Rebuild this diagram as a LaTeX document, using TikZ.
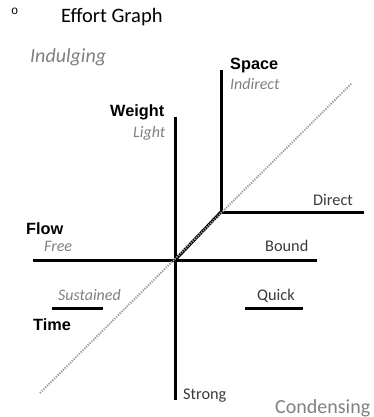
\documentclass[tikz,border=0pt]{standalone}
\usepackage{fontspec}
\setmainfont{Carlito}
\newfontfamily\arialfont{Liberation Sans}
\newfontfamily\monofont{Liberation Mono}
\definecolor{lightgray}{HTML}{808080}
\definecolor{guidegray}{HTML}{999999}
\definecolor{darktext}{HTML}{3A3A3A}
\begin{document}
\begin{tikzpicture}[x=1pt,y=-1pt,
  lbl/.style={inner sep=0pt,anchor=base west,font=\fontsize{16.3}{19}\selectfont,text=darktext},
  sublbl/.style={inner sep=0pt,anchor=base west,font=\fontsize{16}{19}\selectfont\itshape,text=lightgray},
  axlbl/.style={inner sep=0pt,anchor=base west,font=\arialfont\bfseries\fontsize{16.3}{19}\selectfont,text=black},
  biglbl/.style={inner sep=0pt,anchor=base west,font=\fontsize{20}{24}\selectfont,text=lightgray},
  axis/.style={line width=3pt,black},
  guide/.style={line width=2pt,guidegray,dash pattern=on 1.2pt off 1.3pt}]
\useasboundingbox (0,0) rectangle (374,417);
% title
\node[inner sep=0pt,anchor=base west,font=\monofont\fontsize{12}{14}\selectfont] (bullet) at (11,15) {o};
\node[inner sep=0pt,anchor=base west,font=\fontsize{20.5}{24}\selectfont] (title) at (61,23) {Effort Graph};
% corner labels
\node[biglbl,font=\fontsize{20}{24}\selectfont\itshape] (indulging) at (30,63) {Indulging};
\node[biglbl] (condensing) at (275,413) {Condensing};
% coordinates
\coordinate (O) at (175,260);
\coordinate (C) at (221,212);
\coordinate (wtop) at (175,117);
\coordinate (wbot) at (175,400);
\coordinate (stop) at (221,70);
\coordinate (dend) at (364,212);
\coordinate (fl) at (33,260);
\coordinate (fr) at (317,260);
\coordinate (g1) at (40,393);
\coordinate (g2) at (352,83);
\coordinate (ts1) at (52,308);
\coordinate (ts2) at (103,308);
\coordinate (tq1) at (245,308);
\coordinate (tq2) at (303,308);
% axes
\draw[axis] (wtop) -- (wbot);
\draw[axis] (stop) -- (C) -- (dend);
\draw[axis] (fl) -- (fr);
\draw[axis] (O) -- (C);
\draw[axis] (ts1) -- (ts2);
\draw[axis] (tq1) -- (tq2);
\draw[guide] (g1) -- (g2);
% labels
\node[axlbl] (space) at (230,70) {Space};
\node[sublbl] (indirect) at (230,90) {Indirect};
\node[axlbl] (weight) at (110,117) {Weight};
\node[sublbl] (light) at (133,137) {Light};
\node[lbl] (direct) at (313,205) {Direct};
\node[axlbl] (flow) at (26,234) {Flow};
\node[sublbl] (free) at (44,251) {Free};
\node[lbl] (bound) at (265,251) {Bound};
\node[sublbl] (sustained) at (58,300) {Sustained};
\node[axlbl] (time) at (33,330) {Time};
\node[lbl] (quick) at (257,300) {Quick};
\node[lbl] (strong) at (183,399) {Strong};
\end{tikzpicture}
\end{document}
